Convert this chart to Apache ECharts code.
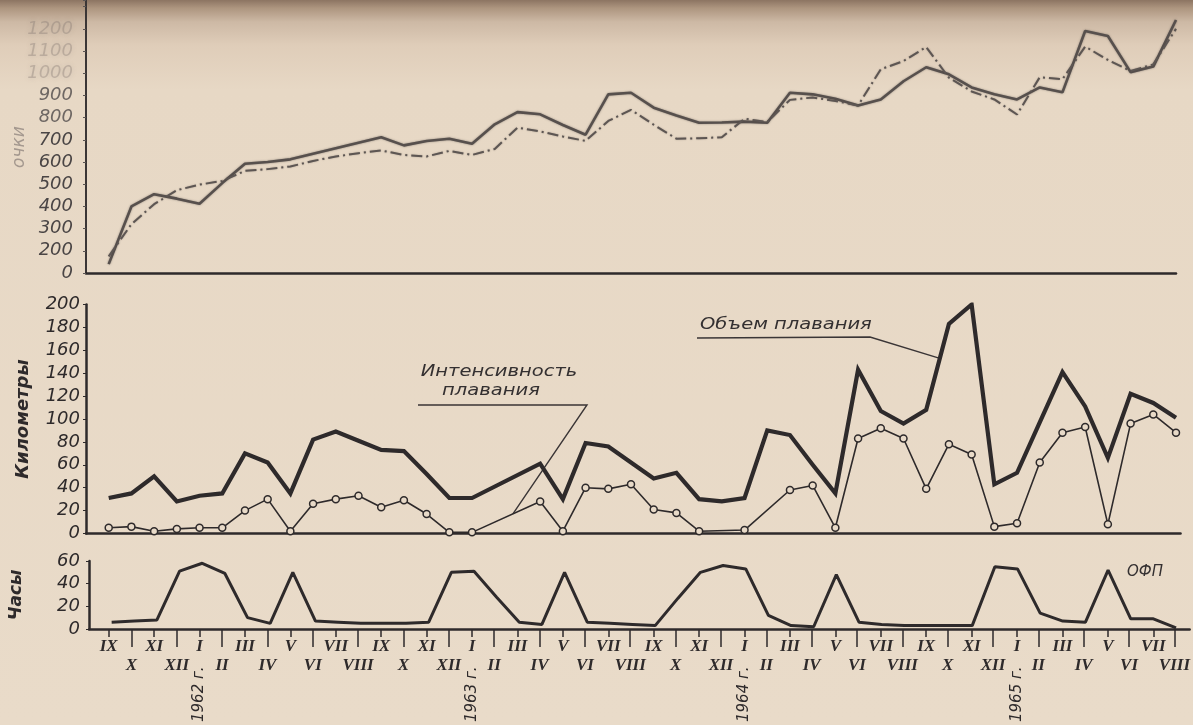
<!DOCTYPE html>
<html>
<head>
<meta charset="utf-8">
<script src="https://cdn.jsdelivr.net/npm/echarts@6/dist/echarts.min.js"></script>
<style>
  html, body { margin: 0; padding: 0; width: 1193px; height: 725px; overflow: hidden; }
  body {
    background: linear-gradient(to bottom, #8c7462 0px, #ad957f 8px, #cdb9a5 22px, #dfcdb9 45px, #e7d8c5 90px, #e9dbc9 100%);
  }
  #chart { width: 1193px; height: 725px; }
</style>
</head>
<body>
<div id="chart"></div>
<script>
// Months from September 1961 to August 1965
const months = [
  'IX','X','XI','XII','I','II','III','IV','V','VI','VII','VIII',
  'IX','X','XI','XII','I','II','III','IV','V','VI','VII','VIII',
  'IX','X','XI','XII','I','II','III','IV','V','VI','VII','VIII',
  'IX','X','XI','XII','I','II','III','IV','V','VI','VII','VIII'
];
const years = ['1962 г.', '1963 г.', '1964 г.', '1965 г.'];

// Points (очки), two curves
const scoreSolid = [140, 400, 455, 435, 412, 505, 592, 600, 612, 637, 662, 687,
  712, 675, 695, 705, 682, 770, 825, 815, 767, 723, 905, 912,
  845, 810, 777, 778, 782, 777, 912, 905, 885, 855, 882, 964,
  1027, 995, 936, 905, 882, 936, 914, 1190, 1168, 1005, 1030, 1240];
const scoreDashDot = [175, 320, 410, 473, 498, 515, 560, 568, 580, 605, 625, 640,
  652, 632, 625, 650, 632, 659, 755, 738, 715, 695, 785, 835,
  768, 705, 707, 712, 795, 780, 880, 891, 875, 855, 1018, 1055,
  1118, 980, 918, 882, 814, 982, 973, 1120, 1060, 1010, 1040, 1200];

// Swimming, km per month
const swimVolume = [31, 35, 50, 28, 33, 35, 70, 62, 35, 82, 89, 81,
  73, 72, 52, 31, 31, null, null, 61, 30, 79, 76, 62,
  48, 53, 30, 28, 31, 90, 86, 60, 35, 143, 107, 96,
  108, 183, 200, 43, 53, 97, 141, 111, 66, 122, 114, 101];
const swimIntensity = [5, 6, 2, 4, 5, 5, 20, 30, 2, 26, 30, 33,
  23, 29, 17, 1, 1, null, null, 28, 2, 40, 39, 43,
  21, 18, 2, null, 3, null, 38, 42, 5, 83, 92, 83,
  39, 78, 69, 6, 9, 62, 88, 93, 8, 96, 104, 88];

// General physical training (ОФП), hours per month
const ofpHours = [6, 7, 8, 51, 58, 49, 10, 5, 50, 7, 6, 5,
  5, 5, 6, 50, 51, 28, 6, 4, 50, 6, 5, 4,
  3, 27, 50, 56, 53, 12, 3, 2, 48, 6, 4, 3,
  3, 3, 3, 55, 53, 14, 7, 6, 52, 9, 9, 1];

const INK = '#2e2a2b';
const NUM_FONT = { fontFamily: 'DejaVu Sans', fontStyle: 'italic', fontSize: 18, color: INK };
const ROMAN_FONT = { fontFamily: 'Liberation Sans Narrow', fontStyle: 'italic', fontWeight: 'bold', fontSize: 17, color: INK };

let yk = 0;
const yearByIndex = months.map(m => (m === 'I' ? years[yk++] : ''));

const pairs = arr => arr.map((v, i) => [i, v]);

const LEFT = 86;
const X_LAST = 1176;
const STEP = (X_LAST - LEFT) / 48;

function valueX(gridIndex, max) {
  return {
    type: 'value', gridIndex, min: -1, max,
    axisLine: { show: true, onZero: false, lineStyle: { color: INK, width: 2.5 } },
    axisTick: { show: false }, axisLabel: { show: false }, splitLine: { show: false }
  };
}
function monthAxis(gridIndex, extra) {
  return Object.assign({
    type: 'category', gridIndex, data: months, boundaryGap: false,
    axisLine: { show: false }, splitLine: { show: false }
  }, extra);
}
function hiddenY(gridIndex) {
  return { type: 'value', gridIndex, show: false };
}

const bottomTop = 561, bottomH = 68;

const option = {
  animation: false,
  backgroundColor: 'transparent',
  grid: [
    { left: LEFT, right: 1193 - X_LAST, top: 0, height: 273 },
    { left: LEFT, right: 1193 - (X_LAST + 0.2 * STEP), top: 304.5, height: 229 },
    { left: LEFT, right: 1193 - (X_LAST + 0.6 * STEP), top: bottomTop, height: bottomH },
    { left: LEFT + STEP, right: 1193 - X_LAST, top: bottomTop, height: bottomH },
    { left: LEFT + STEP, right: 1193 - X_LAST, top: bottomTop, height: bottomH },
    { left: LEFT + STEP, right: 1193 - X_LAST, top: bottomTop, height: bottomH }
  ],
  xAxis: [
    valueX(0, 47),
    valueX(1, 47.2),
    valueX(2, 47.6),
    monthAxis(3, {
      axisTick: { show: true, interval: i => i % 2 === 0, length: 8, lineStyle: { color: INK, width: 1.5 } },
      axisLabel: Object.assign({ interval: i => i % 2 === 0, margin: 9 }, ROMAN_FONT)
    }),
    monthAxis(4, {
      axisTick: { show: true, interval: i => i % 2 === 1, length: 18, lineStyle: { color: INK, width: 1.5 } },
      axisLabel: Object.assign({ interval: i => i % 2 === 1, margin: 28 }, ROMAN_FONT)
    }),
    monthAxis(5, {
      axisTick: { show: false },
      axisLabel: {
        interval: 0, rotate: 90, margin: 40,
        formatter: (v, i) => yearByIndex[i],
        fontFamily: 'DejaVu Sans', fontStyle: 'italic', fontSize: 15, color: INK
      }
    })
  ],
  yAxis: [
    {
      type: 'value', gridIndex: 0, min: 100, max: 1330, interval: 100,
      axisLine: { show: true, onZero: false, lineStyle: { color: '#3b3636', width: 2 } },
      axisTick: { show: true, length: 3, lineStyle: { color: '#5a5452' } },
      splitLine: { show: false },
      axisLabel: {
        margin: 13,
        formatter: v => {
          if (v === 100) return '{d|0}';
          if (v % 100 !== 0 || v > 1200) return '';
          if (v >= 1000) return '{f|' + v + '}';
          if (v >= 800) return '{m|' + v + '}';
          return '{d|' + v + '}';
        },
        rich: {
          d: Object.assign({}, NUM_FONT, { color: '#4a4545' }),
          m: Object.assign({}, NUM_FONT, { color: '#6e6763' }),
          f: Object.assign({}, NUM_FONT, { color: 'rgba(125,115,110,0.35)', textShadowBlur: 5, textShadowColor: 'rgba(125,115,110,0.6)' })
        }
      }
    },
    {
      type: 'value', gridIndex: 1, min: 0, max: 200, interval: 20,
      axisLine: { show: true, onZero: false, lineStyle: { color: INK, width: 2.5 } },
      axisTick: { show: true, length: 3, lineStyle: { color: INK } },
      splitLine: { show: false },
      axisLabel: Object.assign({ margin: 6 }, NUM_FONT),
      name: 'Километры', nameLocation: 'middle', nameRotate: 90, nameGap: 54,
      nameTextStyle: { fontFamily: 'DejaVu Sans', fontStyle: 'italic', fontWeight: 'bold', fontSize: 18, color: INK }
    },
    {
      type: 'value', gridIndex: 2, min: 0, max: 60, interval: 20,
      axisLine: { show: true, onZero: false, lineStyle: { color: INK, width: 2.5 } },
      axisTick: { show: true, length: 3, lineStyle: { color: INK } },
      splitLine: { show: false },
      axisLabel: Object.assign({ margin: 9 }, NUM_FONT),
      name: 'Часы', nameLocation: 'middle', nameRotate: 90, nameGap: 64,
      nameTextStyle: { fontFamily: 'DejaVu Sans', fontStyle: 'italic', fontWeight: 'bold', fontSize: 17, color: INK }
    },
    hiddenY(3), hiddenY(4), hiddenY(5)
  ],
  series: [
    {
      name: 'Очки (сплошная)', type: 'line', xAxisIndex: 0, yAxisIndex: 0,
      data: pairs(scoreSolid), symbol: 'none', connectNulls: true,
      lineStyle: { color: '#57504d', width: 2.6, shadowBlur: 2, shadowColor: 'rgba(70,62,58,0.55)' }
    },
    {
      name: 'Очки (штрихпунктир)', type: 'line', xAxisIndex: 0, yAxisIndex: 0,
      data: pairs(scoreDashDot), symbol: 'none', connectNulls: true,
      lineStyle: { color: '#5d5653', width: 2, type: [11, 4, 2, 4], shadowBlur: 1.5, shadowColor: 'rgba(70,62,58,0.45)' }
    },
    {
      name: 'Объем плавания', type: 'line', xAxisIndex: 1, yAxisIndex: 1,
      data: pairs(swimVolume), symbol: 'none', connectNulls: true,
      lineStyle: { color: INK, width: 4.2, join: 'miter' }
    },
    {
      name: 'Интенсивность плавания', type: 'line', xAxisIndex: 1, yAxisIndex: 1,
      data: pairs(swimIntensity), connectNulls: true,
      symbol: 'circle', symbolSize: 7, showSymbol: true,
      itemStyle: { color: '#e8dac8', borderColor: INK, borderWidth: 1.5 },
      lineStyle: { color: INK, width: 1.6 }
    },
    {
      name: 'ОФП', type: 'line', xAxisIndex: 2, yAxisIndex: 2,
      data: pairs(ofpHours), symbol: 'none', connectNulls: true,
      lineStyle: { color: INK, width: 3 }
    }
  ]
};

const chart = echarts.init(document.getElementById('chart'), null, { renderer: 'canvas' });
chart.setOption(option);

// Leader lines end on the plotted curves
function curvePoint(arr, i0, i1, t) {
  const v = arr[i0] + (arr[i1] - arr[i0]) * t;
  const x = i0 + (i1 - i0) * t;
  return chart.convertToPixel({ xAxisIndex: 1, yAxisIndex: 1 }, [x, v]);
}
const volTip = curvePoint(swimVolume, 36, 37, 0.6);
const intTip = curvePoint(swimIntensity, 16, 19, 0.6);

const NOTE = { fontFamily: 'DejaVu Sans', fontStyle: 'italic', fontSize: 15, fill: '#343031' };

chart.setOption({
  graphic: [
    { type: 'text', x: 700, y: 325, scaleX: 1.3,
      style: Object.assign({ text: 'Объем плавания', align: 'left', verticalAlign: 'middle' }, NOTE) },
    { type: 'polyline', shape: { points: [[697, 338], [870, 337], volTip] },
      style: { stroke: '#3a3536', lineWidth: 1.4, fill: null } },
    { type: 'text', x: 499, y: 372, scaleX: 1.3,
      style: Object.assign({ text: 'Интенсивность', align: 'center', verticalAlign: 'middle' }, NOTE) },
    { type: 'text', x: 491, y: 391, scaleX: 1.3,
      style: Object.assign({ text: 'плавания', align: 'center', verticalAlign: 'middle' }, NOTE) },
    { type: 'polyline', shape: { points: [[418, 405], [587, 405], intTip] },
      style: { stroke: '#3a3536', lineWidth: 1.4, fill: null } },
    { type: 'text', x: 1145, y: 572,
      style: Object.assign({ text: 'ОФП', align: 'center', verticalAlign: 'middle', fontSize: 16 }, NOTE) },
    { type: 'text', x: 20, y: 147, rotation: Math.PI / 2,
      style: { text: 'очки', align: 'center', verticalAlign: 'middle', fontFamily: 'DejaVu Sans', fontStyle: 'italic',
               fontSize: 17, fill: 'rgba(110,100,98,0.55)' } }
  ]
});
</script>
</body>
</html>
